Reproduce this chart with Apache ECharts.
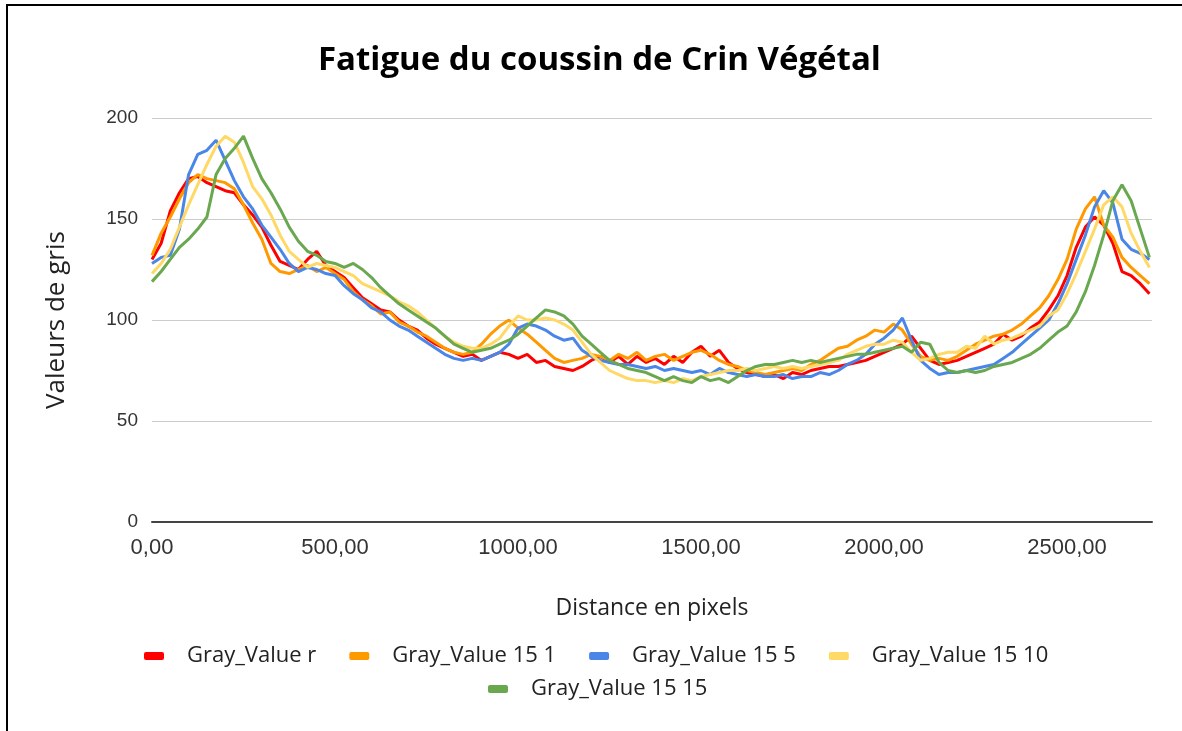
<!DOCTYPE html>
<html>
<head>
    <title>Fatigue du coussin de Crin Végétal</title>
    <script src="https://cdn.jsdelivr.net/npm/echarts@6/dist/echarts.min.js"></script>
    <meta charset="utf-8">
    <style>
        html, body { margin: 0; padding: 0; background: #fff; }
        #main { width: 1182px; height: 731px; }
    </style>
</head>
<body>
<div id="main"></div>
<script type="text/javascript">
    // one sample every 25 px along the profile
    var step = 25;

    var names = ['Gray_Value r', 'Gray_Value 15 1', 'Gray_Value 15 5', 'Gray_Value 15 10', 'Gray_Value 15 15'];
    var colors = ['#ff0000', '#ff9900', '#4a86e8', '#ffd966', '#6aa84f'];

    var grayR = [
        130, 138, 154, 163, 170, 171, 168, 166, 164, 163,
        157, 152, 146, 137, 129, 127, 125, 130, 134, 127,
        124, 121, 116, 111, 108, 105, 104, 100, 97, 95,
        91, 88, 86, 84, 82, 83, 80, 82, 84, 83,
        81, 83, 79, 80, 77, 76, 75, 77, 80, 82,
        79, 82, 78, 82, 79, 81, 78, 82, 79, 84,
        87, 82, 85, 79, 76, 74, 73, 72, 73, 71,
        74, 73, 75, 76, 77, 77, 78, 79, 80, 82,
        84, 86, 88, 92, 86, 80, 78, 79, 80, 82,
        84, 86, 88, 93, 90, 92, 96, 99, 105, 112,
        122, 136, 146, 151, 147, 138, 124, 122, 118, 113
    ];
    var gray15_1 = [
        132, 143, 151, 160, 168, 172, 170, 169, 168, 165,
        157, 148, 140, 128, 124, 123, 125, 127, 124, 126,
        123, 120, 114, 110, 107, 103, 104, 99, 97, 94,
        92, 89, 86, 84, 83, 84, 88, 93, 97, 100,
        96, 93, 89, 85, 81, 79, 80, 81, 83, 82,
        80, 83, 81, 84, 80, 82, 83, 80, 82, 84,
        85, 83, 80, 78, 77, 75, 74, 73, 74, 75,
        76, 75, 78, 80, 83, 86, 87, 90, 92, 95,
        94, 98, 95, 88, 82, 80, 81, 80, 82, 85,
        88, 90, 92, 93, 95, 98, 102, 106, 112, 120,
        130, 145, 155, 161, 147, 141, 131, 126, 122, 118
    ];
    var gray15_5 = [
        128, 131, 132, 145, 172, 182, 184, 189, 179, 169,
        161, 155, 147, 141, 135, 128, 124, 126, 125, 123,
        122, 117, 113, 110, 106, 104, 100, 97, 95, 92,
        89, 86, 83, 81, 80, 81, 80, 82, 84, 88,
        96, 98, 97, 95, 92, 90, 91, 85, 82, 80,
        79, 78, 78, 77, 76, 77, 75, 76, 75, 74,
        75, 73, 76, 74, 73, 72, 73, 72, 72, 73,
        71, 72, 72, 74, 73, 75, 78, 80, 83, 88,
        91, 95, 101, 90, 80, 76, 73, 74, 74, 75,
        76, 77, 78, 81, 84, 88, 92, 96, 100, 108,
        118, 130, 142, 156, 164, 158, 140, 135, 133, 130
    ];
    var gray15_10 = [
        123, 128, 135, 146, 157, 167, 177, 186, 191, 188,
        178, 166, 160, 152, 142, 134, 130, 126, 128, 127,
        126, 124, 122, 118, 116, 114, 112, 109, 107, 104,
        100, 96, 92, 89, 87, 86, 86, 88, 91, 97,
        102, 100, 100, 101, 100, 98, 95, 89, 83, 79,
        75, 73, 71, 70, 70, 69, 70, 69, 71, 70,
        72, 73, 74, 75, 75, 76, 75, 76, 77, 76,
        77, 76, 77, 78, 79, 80, 83, 85, 87, 88,
        88, 90, 89, 84, 80, 81, 83, 84, 84, 87,
        86, 92, 88, 90, 91, 93, 95, 97, 102, 105,
        113, 123, 134, 145, 157, 161, 156, 143, 134, 126
    ];
    var gray15_15 = [
        119, 124, 130, 136, 140, 145, 151, 172, 180, 185,
        191, 180, 170, 163, 155, 146, 139, 134, 132, 129,
        128, 126, 128, 125, 121, 116, 112, 108, 105, 102,
        99, 96, 92, 88, 86, 84, 85, 86, 88, 90,
        93, 97, 101, 105, 104, 102, 98, 92, 88, 84,
        80, 78, 76, 75, 74, 72, 70, 72, 70, 69,
        72, 70, 71, 69, 72, 75, 77, 78, 78, 79,
        80, 79, 80, 79, 80, 81, 82, 83, 83, 84,
        85, 86, 87, 84, 89, 88, 79, 75, 74, 75,
        74, 75, 77, 78, 79, 81, 83, 86, 90, 94,
        97, 104, 114, 127, 142, 159, 167, 159, 145, 131
    ];
    var seriesValues = [grayR, gray15_1, gray15_5, gray15_10, gray15_15];

    var xTicks = [0, 500, 1000, 1500, 2000, 2500];
    var yTicks = [0, 50, 100, 150, 200];

    var myChart = echarts.init(document.getElementById('main'));

    var series = seriesValues.map(function (vals, k) {
        return {
            name: names[k],
            type: 'line',
            showSymbol: false,
            symbol: 'none',
            lineStyle: { width: 3, color: colors[k] },
            itemStyle: { color: colors[k] },
            data: vals.map(function (v, i) { return [i * step, v]; })
        };
    });

    var legendText = { fontFamily: 'Open Sans', fontSize: 22, color: '#222', padding: [0, 0, 0, 18] };

    var option = {
        animation: false,
        backgroundColor: '#fff',
        title: {
            text: 'Fatigue du coussin de Crin Végétal',
            left: 313,
            top: 39,
            textStyle: { fontFamily: 'Open Sans', fontWeight: 'bold', fontSize: 33, color: '#000' }
        },
        graphic: [{
            type: 'rect',
            shape: { x: 7, y: 5, width: 1300, height: 900 },
            style: { fill: 'none', stroke: '#000', lineWidth: 2 }
        }],
        legend: [{
            data: names.slice(0, 4),
            left: 139,
            top: 640,
            itemWidth: 20,
            itemHeight: 8,
            itemGap: 33,
            icon: 'roundRect',
            textStyle: legendText
        }, {
            data: names.slice(4),
            left: 483,
            top: 673,
            itemWidth: 20,
            itemHeight: 8,
            icon: 'roundRect',
            textStyle: legendText
        }],
        grid: { left: 152, right: 30, top: 118, bottom: 209, containLabel: false },
        xAxis: {
            type: 'value',
            min: xTicks[0],
            max: 2732,
            interval: xTicks[1] - xTicks[0],
            name: 'Distance en pixels',
            nameLocation: 'middle',
            nameGap: 75,
            nameTextStyle: { fontFamily: 'Open Sans', fontSize: 23, color: '#222' },
            axisLine: { show: true, lineStyle: { color: '#444', width: 2 } },
            axisTick: { show: false },
            splitLine: { show: false },
            axisLabel: {
                showMaxLabel: false,
                margin: 15,
                fontFamily: 'Liberation Sans',
                fontSize: 22,
                color: '#333',
                formatter: function (v) { return v.toFixed(2).replace('.', ','); }
            }
        },
        yAxis: {
            type: 'value',
            min: yTicks[0],
            max: yTicks[yTicks.length - 1],
            interval: yTicks[1] - yTicks[0],
            name: 'Valeurs de gris',
            nameLocation: 'middle',
            nameGap: 82,
            nameTextStyle: { fontFamily: 'Open Sans', fontSize: 26, color: '#222' },
            axisLine: { show: false },
            axisTick: { show: false },
            splitLine: { lineStyle: { color: '#cccccc', width: 1 } },
            axisLabel: { margin: 14, fontFamily: 'Liberation Sans', fontSize: 19, color: '#333' }
        },
        series: series
    };

    myChart.setOption(option);
</script>
</body>
</html>
